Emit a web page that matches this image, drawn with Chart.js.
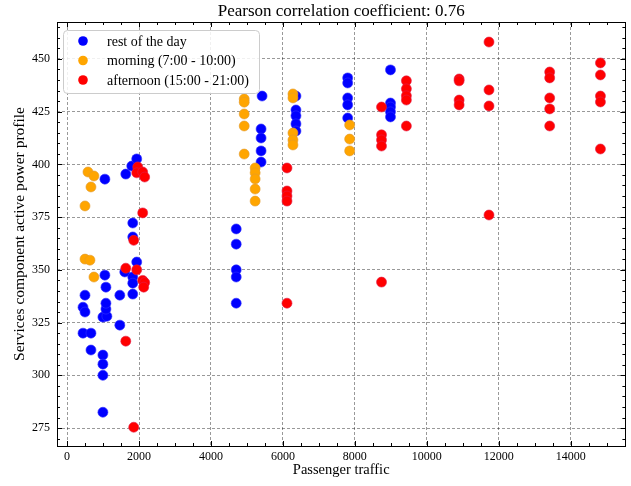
<!DOCTYPE html>
<html>
<head>
<meta charset="utf-8">
<script src="https://cdn.jsdelivr.net/npm/chart.js@4"></script>
<style>
  body { margin: 0; background: #fff; }
  #wrap { width: 631px; height: 486px; }
</style>
</head>
<body>
<div id="wrap"><canvas id="myChart"></canvas></div>
<script>
// series labels
const seriesNames = ['rest of the day', 'morning (7:00 - 10:00)', 'afternoon (15:00 - 21:00)'];

// rest of the day
const restX = [443, 498, 498, 443, 664, 664, 996, 1107, 1080, 1080, 1080, 1051, 996, 996, 996, 996,
  1466, 1466, 1051, 1604, 1826, 1826, 1826, 1936, 1826, 1826, 1632, 1798, 1936,
  4702, 4702, 4702, 4702, 4702, 5421, 5393, 5393, 5393, 5393,
  6362, 6362, 6362, 6362, 6362, 7800, 7800, 7800, 7800, 7800, 8990, 8990, 8990, 8990, 8990];
const restY = [332.3, 330, 338, 320, 320, 312, 327.6, 328, 331.4, 334.2, 341.8, 347.5, 309.6, 305.3, 300, 282.5,
  323.8, 338, 393, 349, 346.6, 343.7, 338.5, 353.7, 365.6, 372.2, 395.4, 399.2, 402.6,
  369.4, 362.2, 350, 346.6, 334.2, 432.4, 416.8, 412.5, 406.4, 401.1,
  432.4, 425.8, 423, 419.2, 415.8, 441, 438.6, 431.5, 428.2, 422, 444.8, 429.1, 427.2, 424.9, 422.5];

// morning
const morningX = [581, 747, 664, 498, 498, 636, 747,
  4924, 4924, 4924, 4924, 4924, 5228, 5228, 5228, 5228, 5228,
  6279, 6279, 6279, 6279, 6279, 7855, 7855, 7855];
const morningY = [396.4, 394.5, 389.3, 380.3, 355.1, 354.6, 346.6,
  431, 429.5, 423.9, 418.2, 404.9, 398.3, 396, 393.1, 388.3, 382.6,
  433.4, 431.5, 414.9, 411.6, 409.2, 418.7, 412, 406.4];

// afternoon
const afternoonX = [1964, 1936, 2102, 2157, 2102, 1853, 1632, 1936, 2102, 2157, 2130, 1632, 1853,
  6113, 6113, 6113, 6113, 6113, 8741, 8741, 8741, 8741, 8741,
  9432, 9432, 9432, 9432, 9432, 10898, 10898, 10898, 10898,
  11728, 11728, 11728, 11728, 13415, 13415, 13415, 13415, 13415,
  14826, 14826, 14826, 14826, 14826];
const afternoonY = [398.8, 396, 396.4, 394, 377, 364, 350.8, 350, 345, 344, 341.8, 316.2, 275.4,
  398.3, 387.4, 385, 382.6, 334.2, 427.2, 414, 411.6, 408.7, 344.2,
  439.6, 435.8, 432.5, 430.5, 418.2, 440.5, 439.6, 430.5, 428.2,
  458, 435.3, 427.7, 376, 443.8, 441, 431.5, 426.3, 418.2,
  448.1, 442.4, 432.4, 429.6, 407.3];

// tick labels
const xTicks = [0, 2000, 4000, 6000, 8000, 10000, 12000, 14000];
const yTicks = [275, 300, 325, 350, 375, 400, 425, 450];

const toPoints = (xs, ys) => xs.map((x, i) => ({x: x, y: ys[i]}));

const serif = "'Liberation Serif', 'DejaVu Serif', serif";

// ticks pointing inward on all four sides + frame
const frameTicks = {
  id: 'frameTicks',
  afterDraw(chart) {
    const {ctx, chartArea: a, scales: {x, y}} = chart;
    ctx.save();
    ctx.strokeStyle = '#000';
    ctx.lineWidth = 1;
    ctx.beginPath();
    for (let v = Math.ceil(x.min / 500) * 500; v <= x.max; v += 500) {
      const px = Math.round(x.getPixelForValue(v)) + 0.5;
      const len = v % 2000 === 0 ? 5 : 3;
      ctx.moveTo(px, a.bottom); ctx.lineTo(px, a.bottom - len);
      ctx.moveTo(px, a.top); ctx.lineTo(px, a.top + len);
    }
    for (let v = Math.ceil(y.min / 5) * 5; v <= y.max; v += 5) {
      const py = Math.round(y.getPixelForValue(v)) + 0.5;
      const len = v % 25 === 0 ? 5 : 3;
      ctx.moveTo(a.left, py); ctx.lineTo(a.left + len, py);
      ctx.moveTo(a.right, py); ctx.lineTo(a.right - len, py);
    }
    ctx.stroke();
    ctx.strokeRect(Math.round(a.left) + 0.5, Math.round(a.top) + 0.5,
      Math.round(a.right - a.left), Math.round(a.bottom - a.top));
    ctx.restore();
  }
};

// legend box inside the plot, top left
const insideLegend = {
  id: 'insideLegend',
  afterDatasetsDraw(chart) {
    const {ctx, chartArea: a} = chart;
    const bx = a.left + 6, by = a.top + 8, bw = 196, bh = 63, r = 4;
    ctx.save();
    ctx.fillStyle = 'rgba(255,255,255,0.85)';
    ctx.strokeStyle = '#cccccc';
    ctx.lineWidth = 1;
    ctx.beginPath();
    ctx.roundRect(bx + 0.5, by + 0.5, bw, bh, r);
    ctx.fill();
    ctx.stroke();
    ctx.font = '14px ' + serif;
    ctx.textBaseline = 'middle';
    chart.data.datasets.forEach((ds, i) => {
      const cy = by + 11 + i * 19.5;
      ctx.fillStyle = ds.backgroundColor;
      ctx.beginPath();
      ctx.arc(bx + 20, cy, 4.8, 0, Math.PI * 2);
      ctx.fill();
      ctx.fillStyle = '#000';
      ctx.fillText(ds.label, bx + 44, cy + 1);
    });
    ctx.restore();
  }
};

const ctx = document.getElementById('myChart');
const myChart = new Chart(ctx, {
  type: 'scatter',
  data: {
    datasets: [
      {label: seriesNames[0], data: toPoints(restX, restY), backgroundColor: '#0000ff', borderColor: '#3030ff', order: 3},
      {label: seriesNames[1], data: toPoints(morningX, morningY), backgroundColor: '#ffa500', borderColor: '#e09a30', order: 2},
      {label: seriesNames[2], data: toPoints(afternoonX, afternoonY), backgroundColor: '#ff0000', borderColor: '#e0204a', order: 1}
    ]
  },
  options: {
    responsive: true,
    maintainAspectRatio: false,
    animation: false,
    layout: {padding: {left: 0, right: 3, top: 0, bottom: 0}},
    elements: {point: {radius: 5, borderWidth: 0.6, hoverRadius: 5}},
    plugins: {
      legend: {display: false},
      tooltip: {enabled: false},
      title: {
        display: true,
        fullSize: false,
        text: 'Pearson correlation coefficient: 0.76',
        color: '#000',
        font: {family: serif, size: 17, weight: 'normal'},
        padding: {top: 1, bottom: 0.6}
      }
    },
    scales: {
      x: {
        type: 'linear',
        min: -280,
        max: 15520,
        afterBuildTicks: s => { s.ticks = xTicks.map(v => ({value: v})); },
        afterFit: s => { s.height = 40; },
        grid: {color: 'rgba(0,0,0,0.5)', lineWidth: 0.8, drawTicks: false},
        border: {display: false, dash: [3, 2]},
        ticks: {color: '#000', padding: 4, maxRotation: 0, font: {family: serif, size: 12},
          callback: v => String(v)},
        title: {display: true, text: 'Passenger traffic', color: '#000',
          font: {family: serif, size: 14.5}, padding: {top: 0, bottom: 7}}
      },
      y: {
        type: 'linear',
        min: 266.5,
        max: 467.5,
        afterBuildTicks: s => { s.ticks = yTicks.map(v => ({value: v})); },
        afterFit: s => { s.width = 57; },
        grid: {color: 'rgba(0,0,0,0.5)', lineWidth: 0.8, drawTicks: false},
        border: {display: false, dash: [3, 2]},
        ticks: {color: '#000', padding: 7, font: {family: serif, size: 12}},
        title: {display: true, text: 'Services component active power profile', color: '#000',
          font: {family: serif, size: 15.5}, padding: {top: 11, bottom: 0}}
      }
    }
  },
  plugins: [frameTicks, insideLegend]
});
</script>
</body>
</html>
